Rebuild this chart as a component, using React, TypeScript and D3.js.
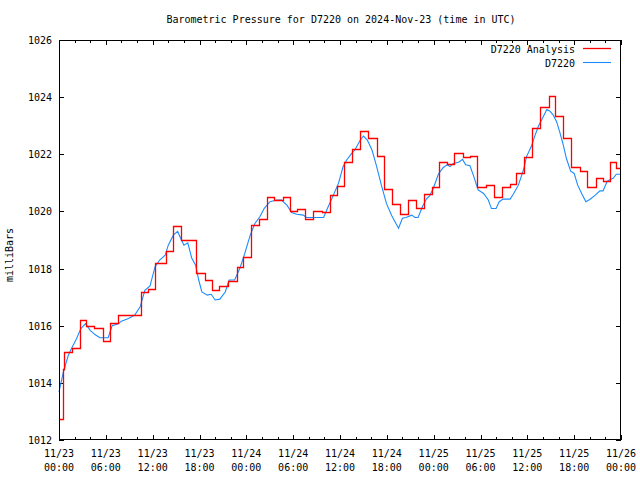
import React from "react";
import * as d3 from "d3";

const title = "Barometric Pressure for D7220 on 2024-Nov-23 (time in UTC)";
const yLabel = "milliBars";
const seriesNames = ["D7220 Analysis", "D7220"];

// hours since 2024-11-23 00:00 UTC
const analysisHours = [0, 0.47, 0.56, 0.68, 1.62, 2.65, 3.42, 4.53, 5.6, 6.58, 7.6, 10.5, 11.44, 12.34, 13.66, 14.65, 15.58, 17.55, 18.7, 19.64, 20.5, 21.6, 22.76, 23.6, 24.6, 25.65, 26.6, 27.55, 28.66, 29.6, 30.5, 31.5, 32.6, 33.65, 34.7, 35.6, 36.5, 37.6, 38.6, 39.6, 40.7, 41.6, 42.6, 43.7, 44.7, 45.7, 46.7, 47.74, 48.7, 49.7, 50.65, 51.7, 52.7, 53.6, 54.66, 55.7, 56.7, 57.8, 58.6, 59.6, 60.55, 61.6, 62.8, 63.6, 64.6, 65.6, 66.7, 67.7, 68.75, 69.7, 70.6, 71.4, 71.88];
const analysisValues = [1012.75, 1013.33, 1014.5, 1015.08, 1015.23, 1016.2, 1016.0, 1015.92, 1015.46, 1016.08, 1016.37, 1017.18, 1017.3, 1018.2, 1018.6, 1019.49, 1018.99, 1017.86, 1017.6, 1017.24, 1017.38, 1017.57, 1018.06, 1018.4, 1019.51, 1019.72, 1020.52, 1020.4, 1020.49, 1020.03, 1020.07, 1019.73, 1020.01, 1019.98, 1020.56, 1020.9, 1021.74, 1022.17, 1022.8, 1022.58, 1021.94, 1020.77, 1020.25, 1019.9, 1020.39, 1020.11, 1020.61, 1020.84, 1021.72, 1021.67, 1022.03, 1021.9, 1021.94, 1020.84, 1020.92, 1020.49, 1020.84, 1020.95, 1021.33, 1021.9, 1022.93, 1023.64, 1024.05, 1023.33, 1022.56, 1021.55, 1021.41, 1020.84, 1021.16, 1021.08, 1021.72, 1021.53, 1021.53];

const obsHours = [0, 0.56, 1.2, 1.6, 2.26, 2.8, 3.4, 4.0, 4.6, 5.25, 6.3, 6.8, 7.6, 8.0, 8.9, 9.7, 10.4, 11.0, 11.66, 12.3, 12.9, 13.6, 14.0, 14.65, 15.2, 15.6, 16.0, 16.5, 17.0, 17.5, 17.9, 18.3, 19.0, 19.5, 20.0, 20.6, 21.3, 21.8, 22.5, 23.2, 23.8, 24.5, 25.1, 25.75, 26.3, 27.03, 27.9, 28.5, 29.2, 29.8, 30.45, 31.3, 31.7, 33.9, 34.4, 35.15, 35.8, 36.4, 36.85, 37.5, 37.9, 38.6, 39.0, 39.5, 40.1, 40.7, 41.3, 41.95, 42.6, 43.05, 43.5, 44.0, 44.45, 45.2, 45.6, 46.0, 46.6, 47.1, 47.5, 47.96, 48.6, 49.2, 49.7, 50.1, 50.5, 51.2, 51.7, 52.1, 52.65, 53.08, 53.7, 54.4, 55.0, 55.4, 56.0, 56.4, 56.9, 57.8, 58.2, 58.85, 59.5, 59.9, 60.5, 61.0, 61.4, 62.05, 62.5, 62.9, 63.3, 63.75, 64.2, 64.6, 65.0, 65.55, 66.0, 66.45, 66.96, 67.5, 68.0, 68.7, 69.3, 69.7, 70.2, 70.6, 71.0, 71.4, 71.87];
const obsValues = [1013.68, 1014.38, 1014.97, 1015.2, 1015.55, 1015.9, 1016.07, 1015.84, 1015.69, 1015.58, 1015.58, 1016.0, 1016.07, 1016.16, 1016.25, 1016.37, 1016.66, 1017.24, 1017.39, 1018.06, 1018.3, 1018.47, 1018.82, 1019.17, 1019.3, 1019.05, 1018.82, 1018.9, 1018.37, 1018.12, 1017.6, 1017.18, 1017.07, 1017.1, 1016.9, 1016.93, 1017.18, 1017.6, 1017.6, 1018.03, 1018.53, 1019.17, 1019.58, 1019.82, 1020.11, 1020.34, 1020.4, 1020.4, 1020.22, 1019.96, 1019.9, 1019.87, 1019.79, 1019.79, 1020.11, 1020.57, 1020.98, 1021.57, 1021.8, 1022.03, 1022.15, 1022.5, 1022.64, 1022.5, 1022.15, 1021.57, 1020.92, 1020.28, 1019.87, 1019.64, 1019.41, 1019.76, 1019.79, 1019.87, 1019.79, 1019.79, 1020.19, 1020.45, 1020.55, 1020.81, 1021.3, 1021.53, 1021.63, 1021.57, 1021.68, 1021.72, 1021.82, 1021.63, 1021.6, 1021.27, 1020.75, 1020.63, 1020.4, 1020.1, 1020.1, 1020.34, 1020.43, 1020.43, 1020.6, 1020.92, 1021.45, 1021.92, 1022.27, 1022.67, 1022.97, 1023.32, 1023.57, 1023.51, 1023.38, 1023.14, 1022.73, 1022.33, 1021.86, 1021.41, 1021.33, 1020.92, 1020.63, 1020.34, 1020.42, 1020.57, 1020.72, 1020.72, 1021.04, 1021.12, 1021.16, 1021.3, 1021.3];

const xTickHours = [0, 6, 12, 18, 24, 30, 36, 42, 48, 54, 60, 66, 72];
const xTickLine1 = ["11/23", "11/23", "11/23", "11/23", "11/24", "11/24", "11/24", "11/24", "11/25", "11/25", "11/25", "11/25", "11/26"];
const xTickLine2 = ["00:00", "06:00", "12:00", "18:00", "00:00", "06:00", "12:00", "18:00", "00:00", "06:00", "12:00", "18:00", "00:00"];
const yTicks = [1012, 1014, 1016, 1018, 1020, 1022, 1024, 1026];

const W = 640, H = 480;
const L = 59, R = 621, T = 40, B = 440;
const FONT = "'DejaVu Sans Mono', monospace";
const RED = "#ff0000";
const BLUE = "#1a8cff";

export default function App() {
  const x = d3.scaleLinear().domain([0, 72]).range([L, R]);
  const y = d3.scaleLinear().domain([1012, 1026]).range([B, T]);

  const redData = analysisHours.map((h, i) => [h, analysisValues[i]] as [number, number]);
  const blueData = obsHours.map((h, i) => [h, obsValues[i]] as [number, number]);

  const redPath = d3.line<[number, number]>().x(d => Math.round(x(d[0])) + 0.5).y(d => Math.round(y(d[1])) + 0.5).curve(d3.curveStepAfter)(redData) || "";
  const bluePath = d3.line<[number, number]>().x(d => x(d[0])).y(d => y(d[1]))(blueData) || "";

  const minorX = d3.range(0, 73, 2).filter(h => h % 6 !== 0);

  return (
    <svg width={W} height={H} style={{ position: "absolute", left: 0, top: 0, background: "#fff" }} fontFamily={FONT} fontSize={10}>
      <rect x={0} y={0} width={W} height={H} fill="#fff" />
      <text x={341} y={23} textAnchor="middle">{title}</text>
      <text transform={`translate(13,${(T + B) / 2 + 15}) rotate(-90)`} textAnchor="middle">{yLabel}</text>

      {yTicks.map(v => (
        <g key={"y" + v}>
          <line x1={L} x2={L + 5} y1={Math.round(y(v)) + 0.5} y2={Math.round(y(v)) + 0.5} stroke="#000" />
          <line x1={R - 5} x2={R} y1={Math.round(y(v)) + 0.5} y2={Math.round(y(v)) + 0.5} stroke="#000" />
          <text x={52} y={y(v) + 4} textAnchor="end">{v}</text>
        </g>
      ))}
      {xTickHours.map((h, i) => (
        <g key={"x" + h}>
          <line x1={Math.round(x(h)) + 0.5} x2={Math.round(x(h)) + 0.5} y1={B} y2={B - 5} stroke="#000" />
          <line x1={Math.round(x(h)) + 0.5} x2={Math.round(x(h)) + 0.5} y1={T} y2={T + 5} stroke="#000" />
          <text x={x(h)} y={457} textAnchor="middle">{xTickLine1[i]}</text>
          <text x={x(h)} y={471} textAnchor="middle">{xTickLine2[i]}</text>
        </g>
      ))}
      {minorX.map(h => (
        <g key={"mx" + h}>
          <line x1={Math.round(x(h)) + 0.5} x2={Math.round(x(h)) + 0.5} y1={B} y2={B - 3} stroke="#000" />
          <line x1={Math.round(x(h)) + 0.5} x2={Math.round(x(h)) + 0.5} y1={T} y2={T + 3} stroke="#000" />
        </g>
      ))}

      <path d={bluePath} fill="none" stroke={BLUE} strokeWidth={1.1} />
      <path d={redPath} fill="none" stroke={RED} strokeWidth={1.3} />

      <text x={575} y={53} textAnchor="end">{seriesNames[0]}</text>
      <line x1={583} x2={611} y1={48.5} y2={48.5} stroke={RED} strokeWidth={1.3} />
      <text x={575} y={67} textAnchor="end">{seriesNames[1]}</text>
      <line x1={583} x2={611} y1={62.5} y2={62.5} stroke={BLUE} strokeWidth={1.1} />

      <rect x={L + 0.5} y={T + 0.5} width={R - L - 1} height={B - T - 1} fill="none" stroke="#000" />
    </svg>
  );
}
